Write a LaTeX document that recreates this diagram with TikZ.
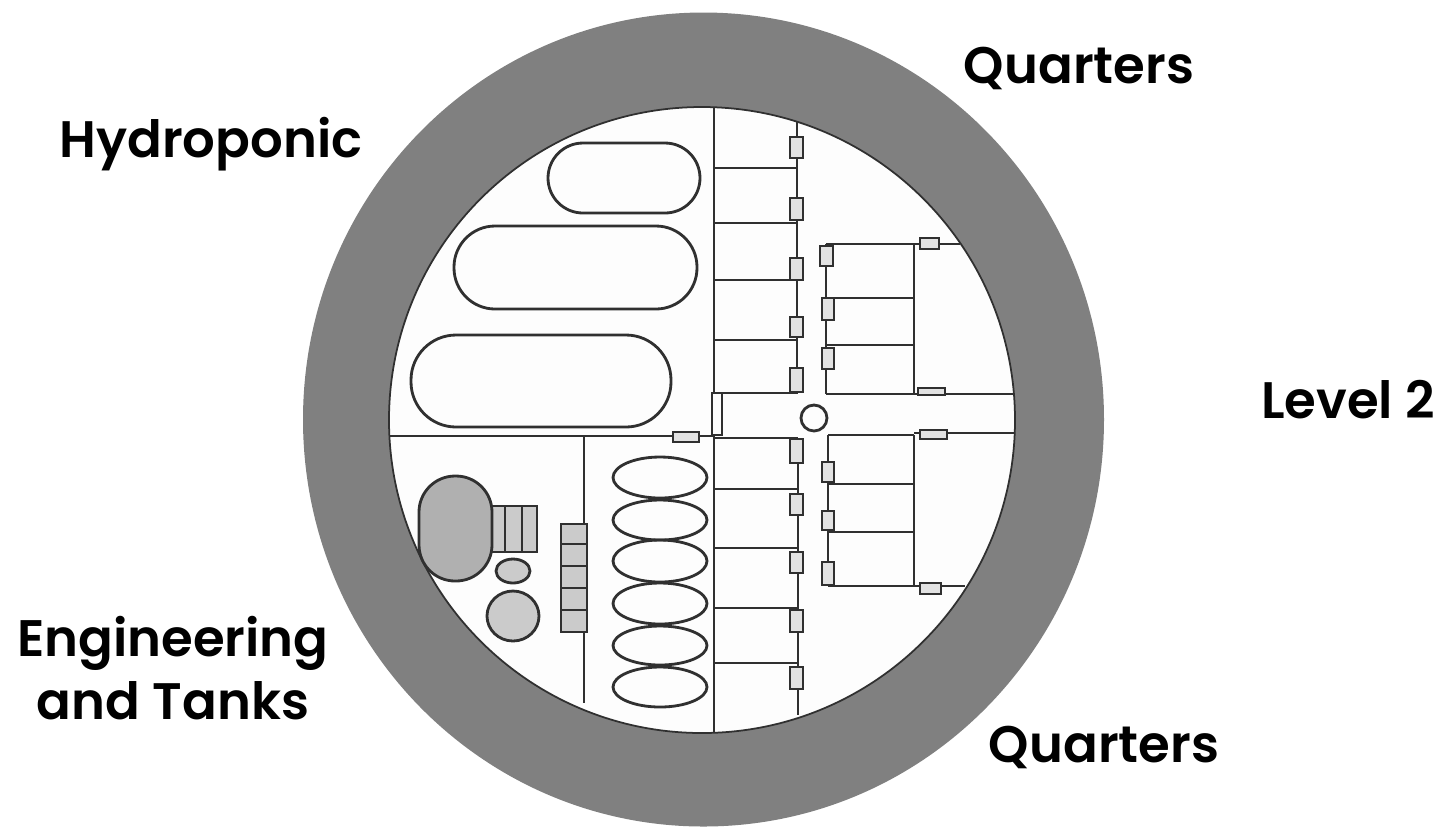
\documentclass[tikz,border=0pt]{standalone}
\usepackage{fontspec}
\setmainfont{Poppins}[BoldFont={Poppins SemiBold}]
\definecolor{color_hull}{HTML}{808080}
\definecolor{color_deck}{HTML}{FDFDFD}
\definecolor{color_wall}{HTML}{303030}
\definecolor{color_door}{HTML}{E2E2E2}
\definecolor{color_plant}{HTML}{B0B0B0}
\definecolor{color_tank}{HTML}{CBCBCB}
\def\wallwidth{0.8pt}
\def\wall(#1,#2,#3,#4){
    \draw[color_wall,line width=\wallwidth] (#1,#2) -- (#3,#4);
}
\def\doorbox(#1,#2,#3,#4){
    \filldraw[color_wall,fill=color_door,line width=\wallwidth] (#1,#2) rectangle (#3,#4);
}
\def\capsule(#1,#2,#3,#4,#5){
    \draw[color_wall,line width=\wallwidth,rounded corners=#5] (#1,#2) rectangle (#3,#4);
}
\tikzset{decklabel/.style={font=\bfseries\fontsize{14.6pt}{17.9pt}\selectfont,text=black,align=center,inner sep=0pt}}

\begin{document}
\begin{tikzpicture}[x=0.01cm,y=-0.01cm]
        \useasboundingbox (0,0) rectangle (1454,832);
        % hull and deck
        \fill[color_hull] (703.5,419.5) ellipse (400.5 and 407);
        \filldraw[color_wall,fill=color_deck,line width=0.5pt] (702,420) ellipse (313 and 313);

        % main walls
        \wall(714,107,714,733)
        \wall(390,436,714,436)
        \wall(584,436,584,703)
        \wall(714,393,798,393)
        \wall(714,438,798,438)

        % upper quarters, left block
        \wall(797,122,797,393)
        \foreach \y in {168,223,280,340} {
            \wall(714,\y,797,\y)
        }
        % lower quarters, left block
        \wall(798,438,798,715)
        \foreach \y in {489,548,608,663} {
            \wall(714,\y,798,\y)
        }

        % upper quarters, right block
        \wall(826,244,826,394)
        \wall(826,244,960,244)
        \wall(826,394,1014,394)
        \wall(914,244,914,394)
        \wall(826,298,914,298)
        \wall(826,345,914,345)
        % lower quarters, right block
        \wall(828,435,828,586)
        \wall(828,435,914,435)
        \wall(914,433,1014,433)
        \wall(828,586,965,586)
        \wall(914,435,914,586)
        \wall(828,484,914,484)
        \wall(828,532,914,532)

        % doors
        \doorbox(790,137,803,158)
        \doorbox(790,198,803,220)
        \doorbox(790,258,803,280)
        \doorbox(790,317,803,337)
        \doorbox(790,368,803,392)
        \doorbox(790,439,803,463)
        \doorbox(790,494,803,515)
        \doorbox(790,552,803,573)
        \doorbox(790,610,803,632)
        \doorbox(790,667,803,689)
        \doorbox(820,246,833,266)
        \doorbox(822,298,834,320)
        \doorbox(822,348,834,369)
        \doorbox(822,462,834,482)
        \doorbox(822,511,834,530)
        \doorbox(822,562,834,585)
        \doorbox(920,238,939,249)
        \doorbox(918,388,945,395)
        \doorbox(920,430,947,439)
        \doorbox(920,583,941,594)
        \doorbox(673,432,699,442)
        \filldraw[color_wall,fill=color_deck,line width=\wallwidth] (712,393) rectangle (722,435);
        \draw[color_wall,line width=\wallwidth] (814,418) circle (13);

        % hydroponic bays
        \capsule(548,143,700,213,0.35cm)
        \capsule(454,226,697,309,0.41cm)
        \capsule(411,335,671,427,0.45cm)

        % tanks
        \foreach \yc/\ry in {477.5/20.5,520/20,561/21,603.5/20.5,645.5/19.5,687/20}
            \draw[color_wall,line width=\wallwidth] (660,\yc) ellipse (47 and \ry);

        % engineering
        \filldraw[color_wall,fill=color_tank,line width=\wallwidth] (490,506) rectangle (537,552);
        \draw[color_wall,line width=\wallwidth] (505,506) -- (505,552) (522,506) -- (522,552);
        \filldraw[color_wall,fill=color_plant,line width=\wallwidth,rounded corners=0.36cm] (419,476) rectangle (492,581);
        \filldraw[color_wall,fill=color_tank,line width=\wallwidth] (513,571) ellipse (17 and 12);
        \filldraw[color_wall,fill=color_tank,line width=\wallwidth] (513,616) ellipse (26 and 25);
        \filldraw[color_wall,fill=color_tank,line width=\wallwidth] (561,524) rectangle (587,632);
        \foreach \y in {544,566,588,610} {
            \wall(561,\y,587,\y)
        }

        % labels
        \node[decklabel] (quarters_up) at (1079,68) {Quarters};
        \node[decklabel] (hydroponic) at (211,144) {Hydroponic};
        \node[decklabel] (level) at (1348,400) {Level 2};
        \node[decklabel] (engineering) at (173,668) {Engineering\\and Tanks};
        \node[decklabel] (quarters_down) at (1104,747) {Quarters};
    \end{tikzpicture}
\end{document}
